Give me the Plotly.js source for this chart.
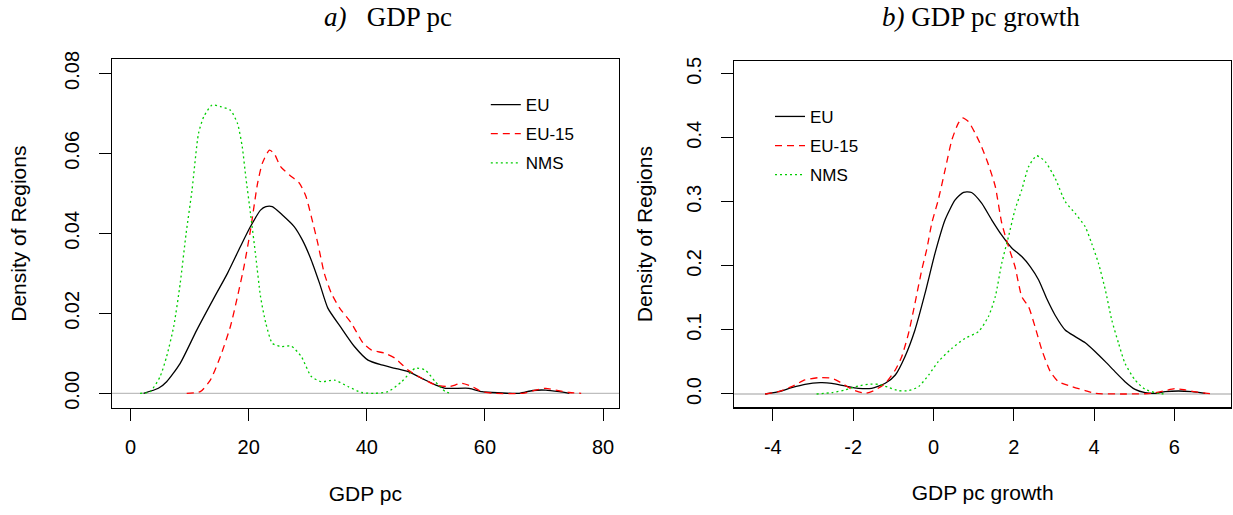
<!DOCTYPE html>
<html>
<head>
<meta charset="utf-8">
<script src="https://cdn.plot.ly/plotly-3.0.1.min.js"></script>
<style>html,body{margin:0;padding:0;background:#fff;}#chart{width:1233px;height:515px;}</style>
</head>
<body>
<div id="chart"></div>
<script>
// ---- Panel a) GDP pc : density estimates ----
var gdpEU_x = [2.2,4.7,6.1,8.4,11.2,14.1,16.4,18.6,20.3,22.0,22.9,24.0,25.7,27.7,29.1,30.6,32.0,33.4,35.7,37.9,40.2,42.5,44.8,47.0,49.3,51.6,53.3,57.3,59.5,61.2,65.8,68.1,70.3,72.6,74.3];
var gdpEU_y = [0,0.00125,0.0029,0.0075,0.0158,0.0238,0.030,0.0367,0.0417,0.0458,0.0467,0.0467,0.0446,0.0417,0.0383,0.0333,0.0275,0.0213,0.0163,0.0117,0.0083,0.0071,0.00625,0.0054,0.00375,0.0021,0.00125,0.00125,0.0004,0.0002,0,0.0007,0.0008,0.0004,0];

var gdpEU15_x = [9.5,11.8,13.5,15.2,16.9,18.1,19.2,20.3,21.5,22.3,23.5,24.3,25.4,26.9,28.6,29.7,30.6,31.7,32.8,34.0,35.4,37.4,39.4,40.8,43.1,44.8,47.0,49.3,51.6,53.9,56.1,57.8,59.5,61.8,66.4,68.6,70.3,72.0,74.3,76.3];
var gdpEU15_y = [0,0.0004,0.0033,0.0092,0.0167,0.0242,0.0317,0.0408,0.0525,0.0575,0.0608,0.060,0.0567,0.0546,0.0525,0.0492,0.0442,0.0375,0.030,0.025,0.0213,0.0175,0.0125,0.0108,0.010,0.00875,0.0058,0.00375,0.0021,0.00167,0.0025,0.0017,0.0004,0,0,0.0008,0.00125,0.0008,0.0002,0];

var gdpNMS_x = [1.6,3.3,5.0,6.1,7.3,8.4,9.4,10.4,11.5,12.4,13.8,15.2,16.9,18.1,18.9,19.5,20.3,21.2,22.0,22.9,24.0,25.4,27.2,28.9,30.6,32.3,34.5,36.8,39.1,41.4,43.6,45.9,48.2,49.9,51.6,53.3,54.4];
var gdpNMS_y = [0,0.0004,0.0042,0.0092,0.0167,0.0275,0.040,0.0508,0.065,0.0692,0.0721,0.0717,0.0708,0.0675,0.0617,0.0542,0.045,0.0342,0.0242,0.0175,0.0125,0.0117,0.0118,0.0092,0.0042,0.0029,0.0033,0.0017,0.0002,0,0.0004,0.0029,0.00625,0.0058,0.0029,0.0004,0];

// ---- Panel b) GDP pc growth : density estimates ----
var grEU_x = [-4.19,-3.86,-3.53,-3.20,-2.82,-2.53,-2.20,-1.87,-1.54,-1.20,-0.95,-0.71,-0.46,-0.21,0.04,0.29,0.54,0.75,0.95,1.20,1.45,1.70,1.95,2.20,2.41,2.62,2.82,3.03,3.28,3.53,3.78,4.03,4.28,4.52,4.77,5.02,5.27,5.52,5.77,6.10,6.43,6.77];
var grEU_y = [0,0.0036,0.0099,0.0151,0.0177,0.0167,0.0125,0.0089,0.0089,0.0167,0.0297,0.0583,0.100,0.157,0.220,0.272,0.303,0.315,0.3146,0.298,0.272,0.248,0.228,0.2146,0.199,0.178,0.149,0.123,0.100,0.0896,0.080,0.066,0.0505,0.0349,0.0193,0.0073,0.0021,0.001,0.0036,0.0047,0.0036,0.001];

var grEU15_x = [-4.19,-3.86,-3.53,-3.20,-2.86,-2.53,-2.28,-2.03,-1.70,-1.45,-1.20,-0.95,-0.79,-0.62,-0.46,-0.29,-0.17,-0.04,0.12,0.29,0.46,0.62,0.72,0.87,1.04,1.20,1.37,1.54,1.70,1.87,2.03,2.20,2.37,2.53,2.70,2.91,3.11,3.45,3.78,4.03,4.77,5.44,5.77,6.02,6.27,6.60,6.97];
var grEU15_y = [0,0.0036,0.0115,0.0219,0.0255,0.0245,0.0167,0.0073,0.001,0.0063,0.0167,0.0375,0.0583,0.0948,0.1417,0.194,0.225,0.267,0.303,0.350,0.397,0.423,0.431,0.4255,0.407,0.386,0.358,0.324,0.267,0.230,0.199,0.152,0.136,0.105,0.0688,0.0349,0.0193,0.0115,0.0052,0.001,0,0.001,0.0052,0.0083,0.0063,0.0026,0];

var grNMS_x = [-2.91,-2.53,-2.20,-1.87,-1.62,-1.37,-1.12,-0.87,-0.62,-0.37,-0.12,0.12,0.46,0.79,1.12,1.37,1.54,1.70,1.87,2.03,2.20,2.37,2.57,2.78,3.03,3.28,3.53,3.78,3.94,4.11,4.28,4.44,4.61,4.77,5.02,5.27,5.60,5.77];
var grNMS_y = [0,0.0021,0.0063,0.0125,0.0151,0.0151,0.0104,0.0052,0.0052,0.0115,0.0297,0.0505,0.0714,0.087,0.0974,0.121,0.152,0.204,0.246,0.2875,0.319,0.355,0.372,0.363,0.337,0.3005,0.282,0.261,0.235,0.204,0.1625,0.1156,0.079,0.048,0.0219,0.0073,0.001,0];

var seriesNames = ["EU", "EU-15", "NMS"];
var panelTitles = ["<i>a)</i>&nbsp;&nbsp; GDP pc", "<i>b)</i> GDP pc growth"];
var xTitles = ["GDP pc", "GDP pc growth"];
var yTitle = "Density of Regions";
var xTicksA = [0, 20, 40, 60, 80];
var xTickTextA = ["0", "20", "40", "60", "80"];
var yTicksA = [0, 0.02, 0.04, 0.06, 0.08];
var yTickTextA = ["0.00", "0.02", "0.04", "0.06", "0.08"];
var xTicksB = [-4, -2, 0, 2, 4, 6];
var xTickTextB = ["-4", "-2", "0", "2", "4", "6"];
var yTicksB = [0, 0.1, 0.2, 0.3, 0.4, 0.5];
var yTickTextB = ["0.0", "0.1", "0.2", "0.3", "0.4", "0.5"];

var styles = [
  {color: "#000000", dash: "solid"},
  {color: "#FF0000", dash: "7px,5px"},
  {color: "#00CD00", dash: "2px,3px"}
];

function tr(x, y, i, xa, ya, leg, grp) {
  return {
    x: x, y: y, type: "scatter", mode: "lines", name: seriesNames[i],
    xaxis: xa, yaxis: ya, legend: leg, legendgroup: grp + i,
    line: {color: styles[i].color, dash: styles[i].dash, width: 1.3, shape: "spline", smoothing: 0.6}
  };
}

var data = [
  tr(gdpEU_x, gdpEU_y, 0, "x", "y", "legend", "a"),
  tr(gdpEU15_x, gdpEU15_y, 1, "x", "y", "legend", "a"),
  tr(gdpNMS_x, gdpNMS_y, 2, "x", "y", "legend", "a"),
  tr(grEU_x, grEU_y, 0, "x2", "y2", "legend2", "b"),
  tr(grEU15_x, grEU15_y, 1, "x2", "y2", "legend2", "b"),
  tr(grNMS_x, grNMS_y, 2, "x2", "y2", "legend2", "b")
];

var tickFont = {family: "Liberation Sans, Arial, sans-serif", size: 20, color: "#000"};
var titleFont = {family: "Liberation Sans, Arial, sans-serif", size: 21, color: "#000"};

function xax(domain, range, tv, tt, title) {
  return {
    domain: domain, range: range, tickvals: tv, ticktext: tt, ticks: "outside", ticklen: 12, tickwidth: 1, tickcolor: "#000",
    showline: true, mirror: true, linecolor: "#000", linewidth: 1.2, showgrid: false, zeroline: false,
    tickfont: tickFont, ticklabelstandoff: 9, automargin: false,
    title: {text: title, font: titleFont, standoff: 28}
  };
}
function yax(domain, range, tv, tt, anchor, standoff) {
  return {
    domain: domain, range: range, tickvals: tv, ticktext: tt, ticks: "outside", ticklen: 12, tickwidth: 1, tickcolor: "#000",
    showline: true, mirror: true, linecolor: "#000", linewidth: 1.2, showgrid: false, zeroline: false,
    tickfont: tickFont, tickangle: -90, ticklabelstandoff: 12, automargin: false, anchor: anchor,
    title: {text: yTitle, font: titleFont, standoff: standoff}
  };
}

var legendFont = {family: "Liberation Sans, Arial, sans-serif", size: 17, color: "#000"};

var layout = {
  width: 1233, height: 515,
  margin: {l: 0, r: 0, t: 0, b: 0},
  paper_bgcolor: "#fff", plot_bgcolor: "#fff",
  xaxis: xax([0.0906, 0.5020], [-3.2, 82.7], xTicksA, xTickTextA, xTitles[0]),
  yaxis: yax([0.2072, 0.8854], [-0.00375, 0.0836], yTicksA, yTickTextA, "x", 28),
  xaxis2: Object.assign(xax([0.5955, 0.9984], [-4.96, 7.41], xTicksB, xTickTextB, xTitles[1]), {anchor: "y2"}),
  yaxis2: yax([0.2091, 0.8816], [-0.0208, 0.520], yTicksB, yTickTextB, "x2", 24),
  showlegend: true,
  legend: {x: 0.394, y: 0.831, xanchor: "left", yanchor: "top", bgcolor: "rgba(0,0,0,0)", font: legendFont, tracegroupgap: 4},
  legend2: {x: 0.6245, y: 0.808, xanchor: "left", yanchor: "top", bgcolor: "rgba(0,0,0,0)", font: legendFont, tracegroupgap: 4},
  shapes: [
    {type: "line", xref: "x domain", yref: "y", x0: 0, x1: 1, y0: 0, y1: 0, line: {color: "#BEBEBE", width: 1.3}, layer: "below"},
    {type: "line", xref: "x2 domain", yref: "y2", x0: 0, x1: 1, y0: 0, y1: 0, line: {color: "#BEBEBE", width: 1.3}, layer: "below"}
  ],
  annotations: [
    {text: panelTitles[0], xref: "paper", yref: "paper", x: 0.3143, y: 0.967, xanchor: "center", yanchor: "middle", showarrow: false,
     font: {family: "Liberation Serif, Times New Roman, serif", size: 27, color: "#000"}},
    {text: panelTitles[1], xref: "paper", yref: "paper", x: 0.796, y: 0.967, xanchor: "center", yanchor: "middle", showarrow: false,
     font: {family: "Liberation Serif, Times New Roman, serif", size: 27, color: "#000"}}
  ]
};

Plotly.newPlot("chart", data, layout, {displayModeBar: false, staticPlot: true});
</script>
</body>
</html>
